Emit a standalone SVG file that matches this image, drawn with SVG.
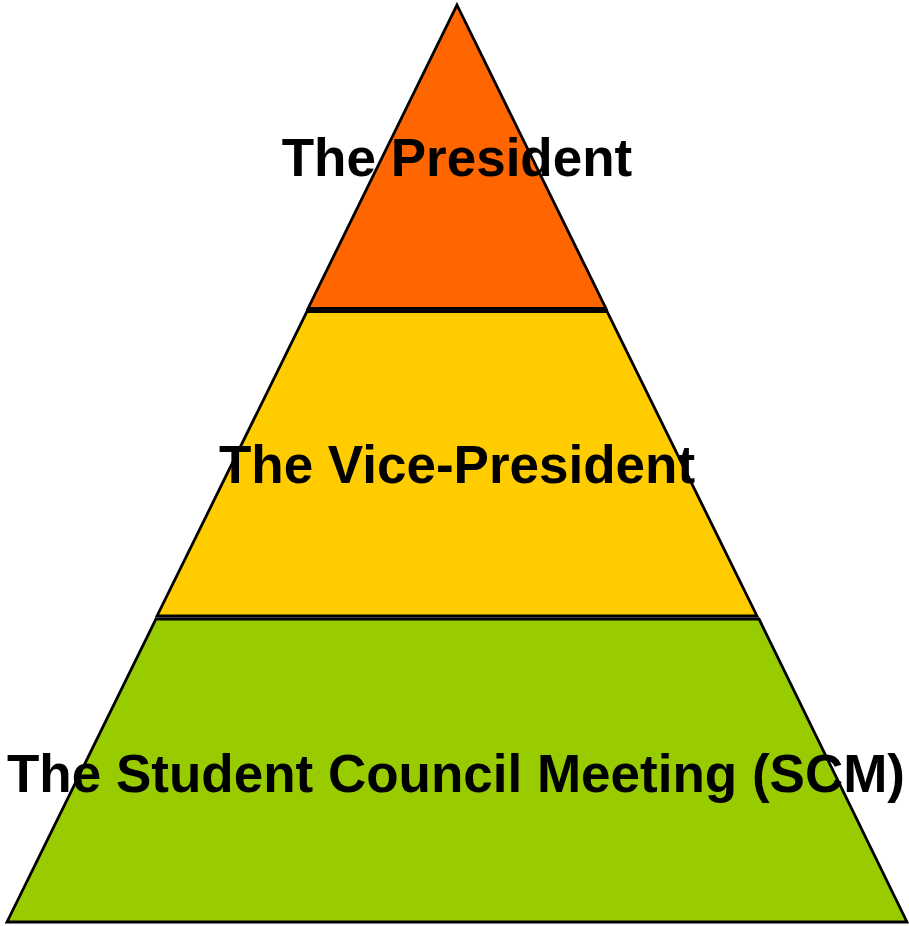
<svg xmlns="http://www.w3.org/2000/svg" width="909" height="926" viewBox="0 0 909 926">
<style>
.tier{stroke:#000;stroke-width:2.8;stroke-linejoin:miter}
.lbl{font-family:"Liberation Sans",Arial,sans-serif;font-weight:bold;font-size:53px;fill:#000;text-anchor:middle}
</style>
<rect width="909" height="926" fill="#fff"/>
<g id="tier-president">
<polygon class="tier" fill="#FF6600" points="457,5 606,308.5 308,308.5"/>
</g>
<g id="tier-vice-president">
<polygon class="tier" fill="#FFCC00" points="307,311.5 607,311.5 757,616 157,616"/>
</g>
<g id="tier-scm">
<polygon class="tier" fill="#99CC00" points="156,619 759,619 907,922 7,922"/>
</g>
<g id="labels">
<text class="lbl" x="457" y="176">The President</text>
<text class="lbl" x="457" y="483">The Vice-President</text>
<text class="lbl" x="456" y="792">The Student Council Meeting (SCM)</text>
</g>
</svg>
